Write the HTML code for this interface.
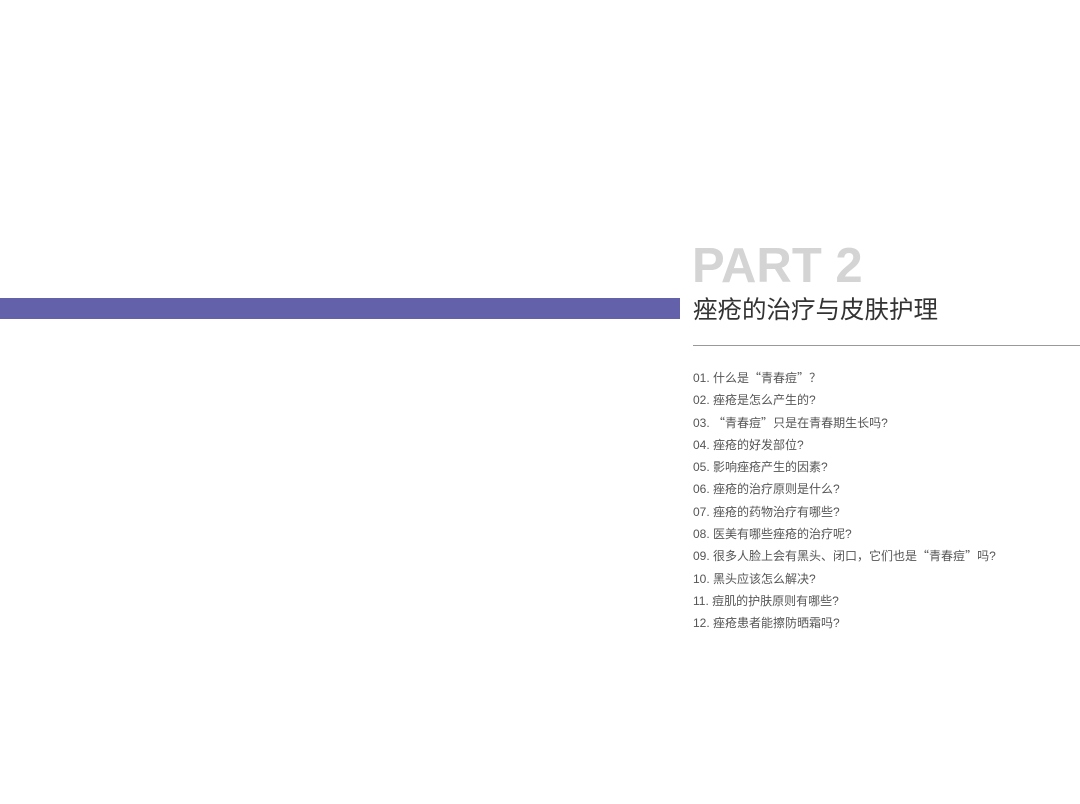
<!DOCTYPE html>
<html><head><meta charset="utf-8"><style>
body{margin:0;width:1080px;height:804px;background:#fff;position:relative;overflow:hidden;font-family:"Liberation Sans","Noto Sans CJK SC",sans-serif;}
.bar{position:absolute;left:0;top:298px;width:680px;height:21px;background:#6461ab;}
.part{position:absolute;left:692px;top:239px;font-size:49px;font-weight:bold;color:#d4d4d4;line-height:54px;letter-spacing:0px;}
.title{position:absolute;left:693px;top:296px;font-size:24.5px;color:#333;line-height:30px;}
.hr{position:absolute;left:693px;top:345px;width:387px;height:1px;background:#999;}
.list{position:absolute;left:693px;top:367px;font-size:12px;color:#555;line-height:22.3px;}
.q{font-family:"Noto Sans CJK SC",sans-serif;}
</style></head><body>
<div class="bar"></div>
<div class="part">PART 2</div>
<div class="title">痤疮的治疗与皮肤护理</div>
<div class="hr"></div>
<div class="list">
01. 什么是<span class="q">“</span>青春痘<span class="q">”</span>？<br>
02. 痤疮是怎么产生的?<br>
03. <span class="q">“</span>青春痘<span class="q">”</span>只是在青春期生长吗?<br>
04. 痤疮的好发部位?<br>
05. 影响痤疮产生的因素?<br>
06. 痤疮的治疗原则是什么?<br>
07. 痤疮的药物治疗有哪些?<br>
08. 医美有哪些痤疮的治疗呢?<br>
09. 很多人脸上会有黑头、闭口，它们也是<span class="q">“</span>青春痘<span class="q">”</span>吗?<br>
10. 黑头应该怎么解决?<br>
11. 痘肌的护肤原则有哪些?<br>
12. 痤疮患者能擦防晒霜吗?
</div>
</body></html>
